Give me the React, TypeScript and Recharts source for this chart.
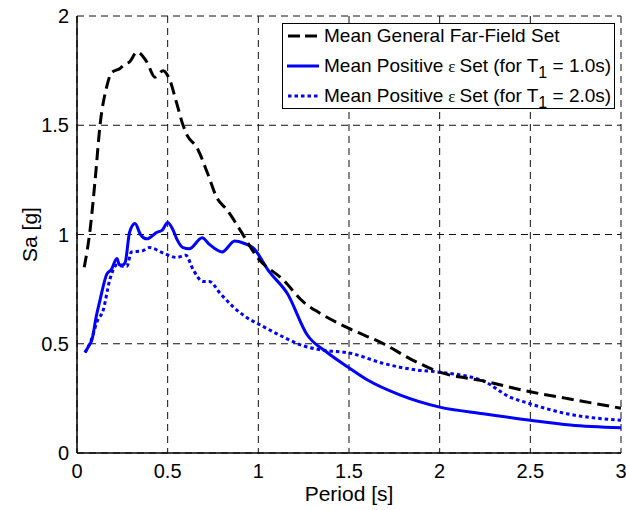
import React from 'react';
import { LineChart, Line, XAxis, YAxis, CartesianGrid, Legend } from 'recharts';

const farFieldT = [0.04, 0.072, 0.1, 0.127, 0.165, 0.19, 0.237, 0.265, 0.29, 0.33, 0.385, 0.43, 0.475, 0.51, 0.55, 0.585, 0.61, 0.66, 0.72, 0.77, 0.83, 0.9, 0.99, 1.14, 1.25, 1.34, 1.5, 1.69, 1.84, 2.0, 2.24, 2.5, 2.7, 3.0];
const farFieldSa = [0.85, 1.02, 1.25, 1.5, 1.68, 1.74, 1.76, 1.78, 1.79, 1.835, 1.79, 1.72, 1.75, 1.71, 1.6, 1.5, 1.45, 1.4, 1.28, 1.17, 1.11, 1.02, 0.9, 0.79, 0.69, 0.64, 0.57, 0.5, 0.43, 0.37, 0.33, 0.28, 0.25, 0.205];

const pos1T = [0.044, 0.065, 0.083, 0.105, 0.127, 0.165, 0.19, 0.22, 0.235, 0.25, 0.265, 0.29, 0.32, 0.35, 0.385, 0.44, 0.47, 0.5, 0.53, 0.55, 0.585, 0.62, 0.69, 0.73, 0.8, 0.87, 0.92, 0.97, 1.06, 1.16, 1.27, 1.38, 1.5, 1.6, 1.78, 2.0, 2.24, 2.5, 2.72, 3.0];
const pos1Sa = [0.46, 0.49, 0.52, 0.62, 0.7, 0.82, 0.84, 0.89, 0.86, 0.86, 0.87, 1.01, 1.05, 1.0, 0.98, 1.01, 1.02, 1.055, 1.02, 0.98, 0.94, 0.935, 0.985, 0.955, 0.92, 0.97, 0.96, 0.94, 0.83, 0.73, 0.54, 0.46, 0.39, 0.335, 0.266, 0.21, 0.18, 0.15, 0.128, 0.115];

const pos2T = [0.044, 0.08, 0.11, 0.145, 0.18, 0.22, 0.25, 0.275, 0.3, 0.36, 0.4, 0.475, 0.55, 0.6, 0.64, 0.695, 0.73, 0.79, 0.86, 0.955, 0.99, 1.14, 1.25, 1.36, 1.5, 1.69, 1.87, 2.0, 2.24, 2.39, 2.48, 2.7, 3.0];
const pos2Sa = [0.46, 0.52, 0.6, 0.655, 0.79, 0.86, 0.855, 0.855, 0.92, 0.925, 0.94, 0.915, 0.895, 0.905, 0.84, 0.785, 0.785, 0.73, 0.67, 0.61, 0.595, 0.53, 0.49, 0.47, 0.458, 0.41, 0.38, 0.37, 0.33, 0.255, 0.23, 0.18, 0.15];

const xTicks = [0, 0.5, 1, 1.5, 2, 2.5, 3];
const yTicks = [0, 0.5, 1, 1.5, 2];

const legendLabels = ['Mean General Far-Field Set', 'Mean Positive', 'Mean Positive'];

const toData = (t: number[], s: number[]) => t.map((x, i) => ({ x, y: s[i] }));
const farFieldData = toData(farFieldT, farFieldSa);
const pos1Data = toData(pos1T, pos1Sa);
const pos2Data = toData(pos2T, pos2Sa);

const FONT = '"Liberation Sans", Arial, Helvetica, sans-serif';

const Sample = ({ kind }: { kind: number }) => (
  <svg width={33} height={10} style={{ display: 'block', flex: 'none' }}>
    {kind === 0 && <line x1={1} y1={5} x2={33} y2={5} stroke="#000" strokeWidth={3} strokeDasharray="12 5" />}
    {kind === 1 && <line x1={0} y1={5} x2={32} y2={5} stroke="#0000ff" strokeWidth={3} />}
    {kind === 2 && <line x1={1} y1={5} x2={33} y2={5} stroke="#0000ff" strokeWidth={3} strokeDasharray="3.5 3" />}
  </svg>
);

const PosLabel = ({ period }: { period: string }) => (
  <span>
    {legendLabels[1]}
    <span style={{ fontFamily: '"Liberation Serif", serif', fontSize: 17, margin: '0 4px 0 5px' }}>ε</span>
    Set (for T
    <span style={{ position: 'relative', top: 6, fontSize: 16 }}>1</span> = {period})
  </span>
);

const renderLegend = () => (
  <div
    style={{
      border: '1.5px solid #000',
      background: '#fff',
      boxSizing: 'border-box',
      width: 333,
      height: 86,
      padding: '0 0 0 4px',
      fontFamily: FONT,
      fontSize: 19,
      color: '#000',
      display: 'flex',
      flexDirection: 'column',
      gap: 6,
    }}
  >
    <div style={{ height: 24, display: 'flex', alignItems: 'center', gap: 4 }}>
      <Sample kind={0} />
      <span>{legendLabels[0]}</span>
    </div>
    <div style={{ height: 24, display: 'flex', alignItems: 'center', gap: 4 }}>
      <Sample kind={1} />
      <PosLabel period="1.0s" />
    </div>
    <div style={{ height: 24, display: 'flex', alignItems: 'center', gap: 4 }}>
      <Sample kind={2} />
      <PosLabel period="2.0s" />
    </div>
  </div>
);

const YLabel = (props: any) => {
  const vb = props.viewBox || { x: 0, y: 16, width: 77, height: 437 };
  const cx = 29;
  const cy = vb.y + vb.height / 2;
  return (
    <text x={cx} y={cy} transform={`rotate(-90 ${cx} ${cy})`} textAnchor="middle" dominantBaseline="central" fontFamily={FONT} fontSize={21} fill="#000">
      Sa [g]
    </text>
  );
};

const XLabel = (props: any) => {
  const vb = props.viewBox || { x: 77, y: 453, width: 544, height: 57 };
  const cx = vb.x + vb.width / 2;
  return (
    <text x={cx} y={vb.y + 40} textAnchor="middle" dominantBaseline="central" fontFamily={FONT} fontSize={21} fill="#000">
      Period [s]
    </text>
  );
};

export default function App() {
  const tickStyle = { fontFamily: FONT, fontSize: 20, fill: '#000' };
  return (
    <div style={{ position: 'absolute', left: 0, top: 0, background: '#fff' }}>
      <LineChart width={626} height={510} margin={{ top: 16, right: 5, bottom: 0, left: 0 }}>
        <CartesianGrid stroke="#111" strokeWidth={1} strokeDasharray="7 5" />
        <XAxis
          dataKey="x"
          type="number"
          domain={[0, 3]}
          ticks={xTicks}
          allowDataOverflow
          height={57}
          tickLine={false}
          tickSize={0}
          tickMargin={11}
          axisLine={{ stroke: '#000', strokeWidth: 1.5 }}
          tick={tickStyle}
          label={<XLabel />}
        />
        <XAxis xAxisId="top" orientation="top" type="number" domain={[0, 3]} height={0} tick={false} tickLine={false} axisLine={{ stroke: '#000', strokeWidth: 1.5 }} />
        <YAxis
          type="number"
          domain={[0, 2]}
          ticks={yTicks}
          allowDataOverflow
          width={77}
          tickLine={false}
          tickSize={0}
          tickMargin={8}
          axisLine={{ stroke: '#000', strokeWidth: 1.5 }}
          tick={tickStyle}
          label={<YLabel />}
        />
        <YAxis yAxisId="right" orientation="right" type="number" domain={[0, 2]} width={0} tick={false} tickLine={false} axisLine={{ stroke: '#000', strokeWidth: 1.5 }} />
        <Legend
          layout="horizontal"
          verticalAlign="middle"
          align="center"
          wrapperStyle={{ top: 23, left: 282, width: 333 }}
          content={renderLegend}
        />
        <Line data={pos2Data} dataKey="y" type="monotone" stroke="#0000ff" strokeWidth={3} strokeDasharray="3.5 3" dot={false} isAnimationActive={false} />
        <Line data={pos1Data} dataKey="y" type="monotone" stroke="#0000ff" strokeWidth={3} dot={false} isAnimationActive={false} />
        <Line data={farFieldData} dataKey="y" type="monotone" stroke="#000" strokeWidth={3} strokeDasharray="12 6" dot={false} isAnimationActive={false} />
      </LineChart>
    </div>
  );
}
